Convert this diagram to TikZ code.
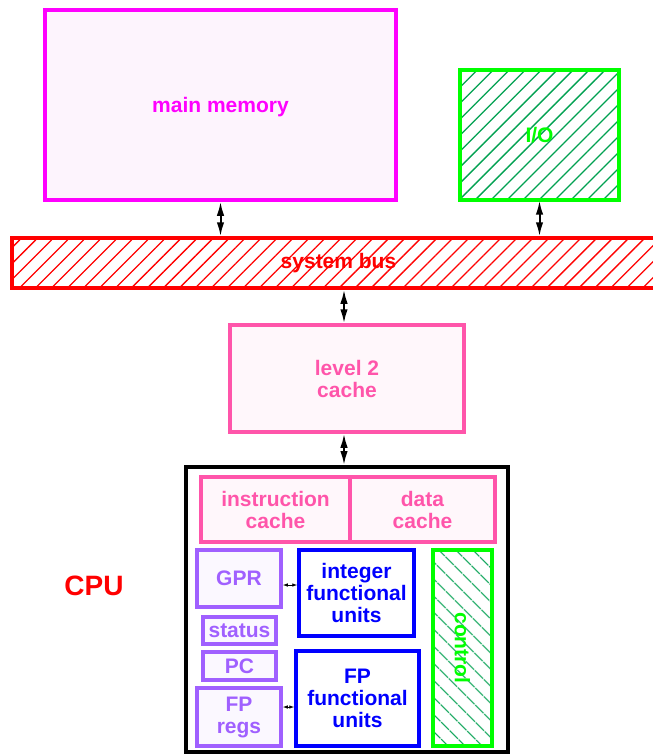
\documentclass[tikz,border=0pt]{standalone}
\usepackage{fontspec}
\setmainfont{Liberation Sans}
\usetikzlibrary{arrows.meta,patterns.meta}

\definecolor{mag}{HTML}{FF00FF}
\definecolor{magfill}{HTML}{FDF4FD}
\definecolor{cachepink}{HTML}{FF55AA}
\definecolor{cachefill}{HTML}{FFF7FB}
\definecolor{regpurple}{HTML}{A060FF}
\definecolor{regfill}{HTML}{FBF8FF}
\definecolor{unitblue}{HTML}{0000FF}
\definecolor{brightgreen}{HTML}{00FF00}
\definecolor{hatchgreen}{HTML}{00A050}
\definecolor{busred}{HTML}{FF0000}

\tikzset{
  box/.style={draw, rectangle, line width=3.5pt, inner sep=0pt, align=center,
    font=\fontsize{21}{22}\selectfont\bfseries},
  membox/.style={box, draw=mag, fill=magfill, text=mag},
  cachebox/.style={box, draw=cachepink, fill=cachefill, text=cachepink},
  regbox/.style={box, draw=regpurple, fill=regfill, text=regpurple},
  unitbox/.style={box, draw=unitblue, fill=white, text=unitblue},
  hatchne/.style={pattern={Lines[angle=45,distance=11.3pt,line width=1.3pt]}},
  hatchnw/.style={pattern={Lines[angle=-45,distance=13pt,line width=1.4pt]}},
  link/.style={line width=2pt, {Latex[length=14pt,width=7.5pt]}-{Latex[length=14pt,width=7.5pt]}},
  smalllink/.style={line width=0.8pt, {Latex[length=5pt,width=3.5pt]}-{Latex[length=5pt,width=3.5pt]}},
}

\begin{document}
\begin{tikzpicture}[x=1pt,y=-1pt]
\useasboundingbox (0,0) rectangle (653,755);

% memory, I/O and the bus
\node[membox, minimum width=351pt, minimum height=190pt, text depth=-3pt] (mem) at (220.5,105) {main memory};
\node[box, draw=brightgreen, hatchne, pattern color=hatchgreen, text=brightgreen,
      minimum width=159pt, minimum height=130pt] (io) at (539.5,135) {I/O};
\node[box, draw=busred, hatchne, pattern color=busred, text=busred,
      minimum width=653pt, minimum height=50pt] (bus) at (338.5,263) {system bus};

% level 2 cache
\node[cachebox, minimum width=234pt, minimum height=107pt] (l2) at (347,378.5) {level 2\\cache};

% processor
\node[draw=black, line width=4pt, fill=white, minimum width=322pt, minimum height=285pt] (cpu) at (347,609.5) {};
\node[text=busred, font=\fontsize{28}{30}\selectfont\bfseries] (cpulabel) at (94,586) {CPU};

\node[cachebox, minimum width=149pt, minimum height=65pt] (ic) at (275.5,509.5) {instruction\\cache};
\node[cachebox, minimum width=145pt, minimum height=65pt] (dc) at (422.5,509.5) {data\\cache};

\node[regbox, minimum width=84pt, minimum height=57pt] (gpr) at (239,578.5) {GPR};
\node[regbox, minimum width=73pt, minimum height=27pt] (status) at (239.5,630.5) {status};
\node[regbox, minimum width=73pt, minimum height=28pt] (pc) at (239.5,666) {PC};
\node[regbox, minimum width=84pt, minimum height=58pt] (fpr) at (239,717) {FP\\regs};

\node[unitbox, minimum width=115pt, minimum height=86pt] (intu) at (356.5,593) {integer\\functional\\units};
\node[unitbox, minimum width=123pt, minimum height=95pt] (fpu) at (357.5,698.5) {FP\\functional\\units};

\node[box, draw=brightgreen, hatchnw, pattern color=hatchgreen,
      minimum width=59pt, minimum height=196pt] (ctrl) at (462.5,648) {};
\node[text=brightgreen, rotate=-90, font=\fontsize{21}{22}\selectfont\bfseries] (ctrltext) at (ctrl.center) {control};

% connections
\draw[link] (mem.south) -- (mem.south |- bus.north);
\draw[link] (io.south) -- (io.south |- bus.north);
\draw[link] ([xshift=-3pt]l2.north) -- ([xshift=-3pt]l2.north |- bus.south);
\draw[link] ([xshift=-3pt]l2.south) -- ([xshift=-3pt]l2.south |- cpu.north);
\draw[smalllink] ([yshift=-6.5pt]gpr.east) -- ([yshift=-6.5pt]gpr.east -| intu.west);
\draw[smalllink] ([yshift=10pt]fpr.east) -- ([yshift=10pt]fpr.east -| fpu.west);
\end{tikzpicture}
\end{document}
